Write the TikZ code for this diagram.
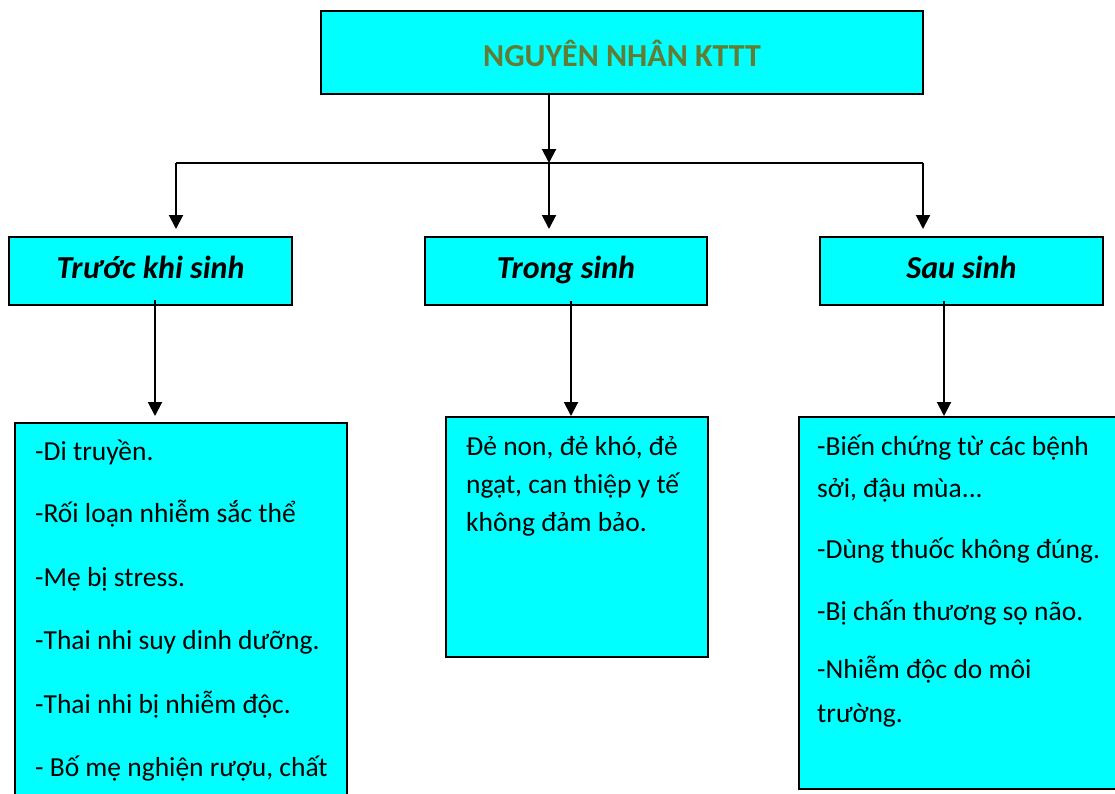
\documentclass[tikz,border=0pt]{standalone}
\usepackage{fontspec}
\setmainfont{Carlito}
\usetikzlibrary{arrows.meta}
\definecolor{boxcyan}{RGB}{0,255,255}
\definecolor{titlegreen}{RGB}{98,124,52}
\begin{document}
\begin{tikzpicture}[x=1pt,y=-1pt,
  box/.style={draw=black,line width=2pt,fill=boxcyan,rectangle,inner sep=0pt},
  conn/.style={line width=2pt,-{Triangle[length=14pt,width=14pt]}},
  plainline/.style={line width=2pt},
  titletext/.style={font=\fontsize{32}{38}\selectfont\bfseries,text=titlegreen,anchor=base,inner sep=0pt},
  headtext/.style={font=\fontsize{32}{38}\selectfont\bfseries\itshape,anchor=base,inner sep=0pt},
  bodytext/.style={font=\fontsize{27.5}{33}\selectfont,anchor=base west,inner sep=0pt}]
\clip (0,0) rectangle (1115,793);
\fill[white] (0,0) rectangle (1115,793);

% boxes
\node[box,minimum width=602pt,minimum height=83pt] (top) at (622,52.5) {};
\node[box,minimum width=283pt,minimum height=68pt] (b1) at (150.5,271) {};
\node[box,minimum width=282pt,minimum height=68pt] (b2) at (566,271) {};
\node[box,minimum width=283pt,minimum height=68pt] (b3) at (961.5,271) {};
\node[box,minimum width=332pt,minimum height=407pt] (c1) at (181,626.5) {};
\node[box,minimum width=262pt,minimum height=240pt] (c2) at (577,537) {};
\node[box,minimum width=331pt,minimum height=372pt] (c3) at (964.5,603) {};

% connectors
\coordinate (jl) at (176,163);
\coordinate (jm) at (549,163);
\coordinate (jr) at (923,163);
\draw[conn] (top.south -| jm) -- (jm);
\draw[plainline] (jl) -- (jr);
\draw[conn] (jl) -- ([yshift=7pt]b1.north -| jl);
\draw[conn] (jm) -- ([yshift=7pt]b2.north -| jm);
\draw[conn] (jr) -- ([yshift=7pt]b3.north -| jr);
\coordinate (k1) at (155,0);
\coordinate (k2) at (571,0);
\coordinate (k3) at (944,0);
\draw[conn] ([yshift=6pt]b1.south -| k1) -- ([yshift=6pt]c1.north -| k1);
\draw[conn] ([yshift=5pt]b2.south -| k2) -- (c2.north -| k2);
\draw[conn] ([yshift=5pt]b3.south -| k3) -- (c3.north -| k3);

% texts
\node[titletext] (tt) at (622,66) {NGUYÊN NHÂN KTTT};
\node[headtext] (h1) at (150.5,278) {Trước khi sinh};
\node[headtext] (h2) at (566,278) {Trong sinh};
\node[headtext] (h3) at (961.5,278) {Sau sinh};

\node[bodytext] (l1) at (35,460) {-Di truyền.};
\node[bodytext] (l2) at (35,522) {-Rối loạn nhiễm sắc thể};
\node[bodytext] (l3) at (35,586) {-Mẹ bị stress.};
\node[bodytext] (l4) at (35,649) {-Thai nhi suy dinh dưỡng.};
\node[bodytext] (l5) at (35,713) {-Thai nhi bị nhiễm độc.};
\node[bodytext] (l6) at (35,776) {- Bố mẹ nghiện rượu, chất};

\node[bodytext] (m1) at (466,455) {Đẻ non, đẻ khó, đẻ};
\node[bodytext] (m2) at (466,493) {ngạt, can thiệp y tế};
\node[bodytext] (m3) at (466,531) {không đảm bảo.};

\node[bodytext] (r1) at (817,455) {-Biến chứng từ các bệnh};
\node[bodytext] (r2) at (817,497) {sởi, đậu mùa...};
\node[bodytext] (r3) at (817,558) {-Dùng thuốc không đúng.};
\node[bodytext] (r4) at (817,620) {-Bị chấn thương sọ não.};
\node[bodytext] (r5) at (817,678) {-Nhiễm độc do môi};
\node[bodytext] (r6) at (817,722) {trường.};
\end{tikzpicture}
\end{document}
